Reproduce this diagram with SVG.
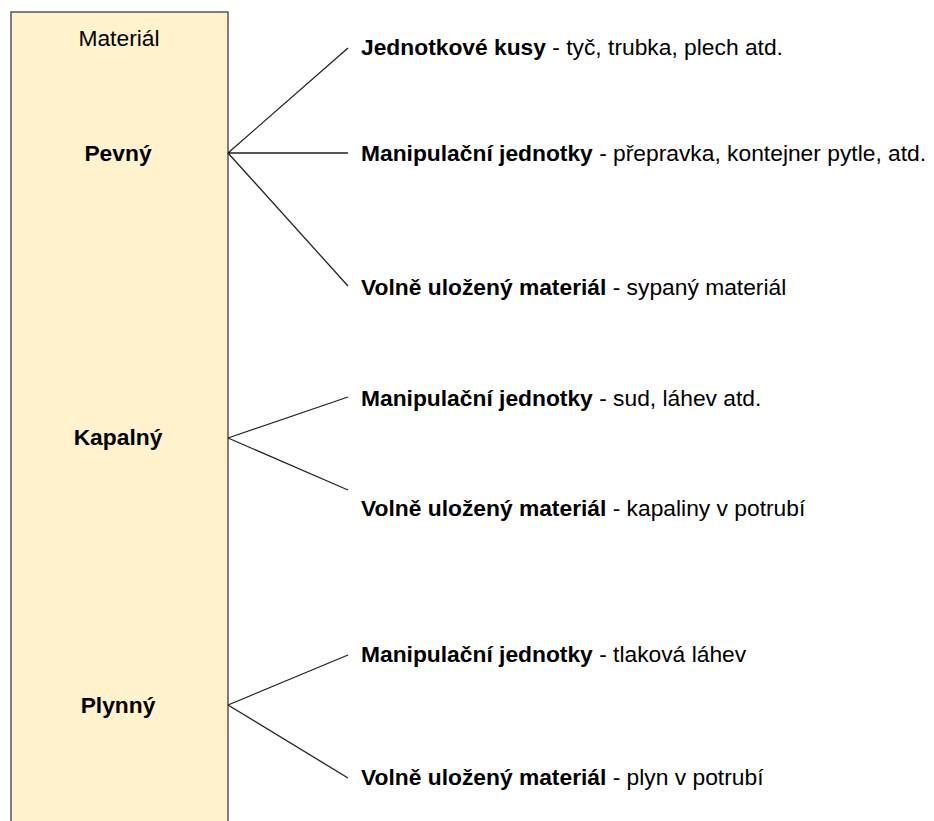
<svg xmlns="http://www.w3.org/2000/svg" width="934" height="821" viewBox="0 0 934 821">
<style>
text{font-family:"Liberation Sans",Arial,sans-serif;font-size:22.8px;fill:#000}
.b{font-weight:bold}
.c{text-anchor:middle}
.ln{stroke:#222;stroke-width:1.3;fill:none}
</style>
<rect x="0" y="0" width="934" height="821" fill="#fff"/>
<g id="material">
<rect x="11" y="12" width="217" height="820" fill="#fff2cc" stroke="#555" stroke-width="1.5"/>
<text class="c" x="119" y="46">Materiál</text>
</g>
<g id="pevny"><text class="c b" x="118" y="161">Pevný</text></g>
<g id="kapalny"><text class="c b" x="118" y="445">Kapalný</text></g>
<g id="plynny"><text class="c b" x="118" y="713">Plynný</text></g>
<g id="connectors">
<path class="ln" d="M228,153 L348,48 M228,153 L348,153 M228,153 L348,286"/>
<path class="ln" d="M228,438 L348,397 M228,438 L348,490"/>
<path class="ln" d="M228,705 L348,655 M228,705 L348,778"/>
</g>
<g id="n1"><text x="361" y="55"><tspan class="b">Jednotkové kusy</tspan> - tyč, trubka, plech atd.</text></g>
<g id="n2"><text x="361" y="161"><tspan class="b">Manipulační jednotky</tspan> - přepravka, kontejner pytle, atd.</text></g>
<g id="n3"><text x="361" y="295"><tspan class="b">Volně uložený materiál</tspan> - sypaný materiál</text></g>
<g id="n4"><text x="361" y="406"><tspan class="b">Manipulační jednotky</tspan> - sud, láhev atd.</text></g>
<g id="n5"><text x="361" y="516"><tspan class="b">Volně uložený materiál</tspan> - kapaliny v potrubí</text></g>
<g id="n6"><text x="361" y="662"><tspan class="b">Manipulační jednotky</tspan> - tlaková láhev</text></g>
<g id="n7"><text x="361" y="785"><tspan class="b">Volně uložený materiál</tspan> - plyn v potrubí</text></g>
</svg>
